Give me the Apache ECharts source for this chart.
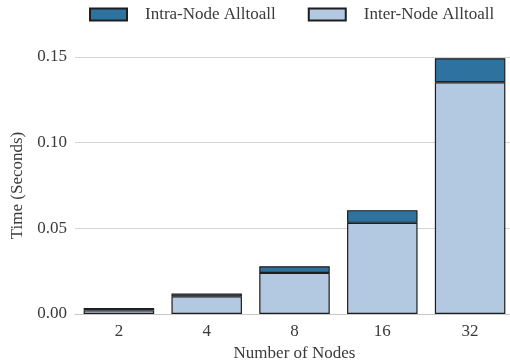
<!DOCTYPE html>
<html>
<head>
<meta charset="utf-8">
<script src="https://cdn.jsdelivr.net/npm/echarts@6/dist/echarts.min.js"></script>
<style>
  html, body { margin: 0; padding: 0; background: #fff; }
  #chart { width: 510px; height: 362px; }
</style>
</head>
<body>
<div id="chart"></div>
<script>
// Alltoall time breakdown per node count (seconds)
const nodeCounts = ['2', '4', '8', '16', '32'];
const interNode = [0.0021, 0.0103, 0.0240, 0.0532, 0.1353];
const intraNode = [0.0014, 0.0016, 0.0039, 0.0074, 0.0140];
const yTicks = [0, 0.05, 0.10, 0.15];

const FONT = 'Liberation Serif';
const TEXT = '#3a3a3a';
const FS = 17;

const chart = echarts.init(document.getElementById('chart'), null, { renderer: 'canvas' });

chart.setOption({
  animation: false,
  backgroundColor: '#fff',
  textStyle: { fontFamily: FONT, color: TEXT },
  legend: {
    top: 1,
    left: 84,
    icon: 'rect',
    itemWidth: 37,
    itemHeight: 12,
    itemGap: 32,
    textStyle: { fontFamily: FONT, fontSize: FS, color: TEXT, padding: [0, 0, 0, 13] },
    data: ['Intra-Node Alltoall', 'Inter-Node Alltoall']
  },
  grid: {
    left: 75,
    right: -4,
    top: 57,
    bottom: 48,
    containLabel: false,
    outerBoundsMode: 'none'
  },
  xAxis: {
    type: 'category',
    data: nodeCounts,
    name: 'Number of Nodes',
    nameLocation: 'middle',
    nameGap: 29,
    nameTextStyle: { fontFamily: FONT, fontSize: FS, color: TEXT },
    axisLine: { show: true, lineStyle: { color: '#c8c8c8', width: 1 } },
    axisTick: { show: false },
    axisLabel: { fontFamily: FONT, fontSize: FS, color: TEXT, margin: 9 }
  },
  yAxis: {
    type: 'value',
    min: yTicks[0],
    max: yTicks[yTicks.length - 1],
    interval: 0.05,
    name: 'Time (Seconds)',
    nameLocation: 'middle',
    nameGap: 49,
    nameTextStyle: { fontFamily: FONT, fontSize: FS, color: TEXT },
    axisLine: { show: false },
    axisTick: { show: false },
    axisLabel: {
      fontFamily: FONT, fontSize: FS, color: TEXT, margin: 8,
      formatter: v => v.toFixed(2)
    },
    splitLine: { show: true, lineStyle: { color: '#d4d4d4', width: 1 } }
  },
  series: [
    {
      name: 'Inter-Node Alltoall',
      type: 'bar',
      stack: 'total',
      data: interNode,
      barWidth: '80.3%',
      itemStyle: { color: '#b3c8e1', borderColor: '#1e1e1e', borderWidth: 1.2 }
    },
    {
      name: 'Intra-Node Alltoall',
      type: 'bar',
      stack: 'total',
      data: intraNode,
      barWidth: '80.3%',
      itemStyle: { color: '#2e72a0', borderColor: '#1e1e1e', borderWidth: 1.2 }
    }
  ]
});
</script>
</body>
</html>
